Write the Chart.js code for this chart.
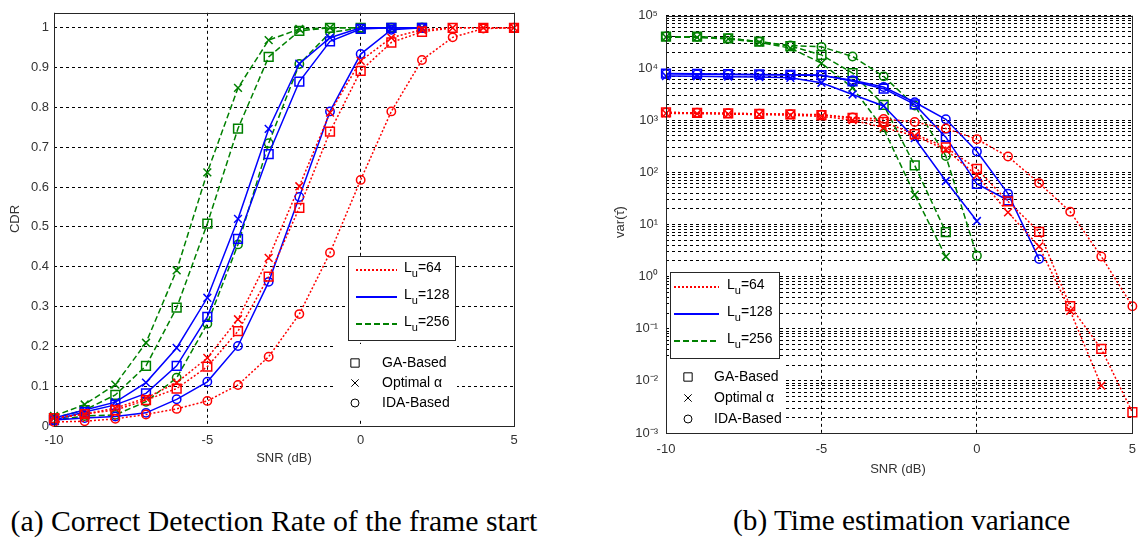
<!DOCTYPE html>
<html><head><meta charset="utf-8">
<script src="https://cdn.jsdelivr.net/npm/chart.js@4/dist/chart.umd.min.js"></script>
<style>
html,body{margin:0;padding:0;background:#fff;width:1145px;height:538px;overflow:hidden;position:relative}
#c1{position:absolute;left:0;top:0;width:560px;height:480px}
#c2{position:absolute;left:580px;top:0;width:565px;height:480px}
.cap{position:absolute;font-family:"Liberation Serif","Times New Roman",serif;color:#000;white-space:nowrap}
</style></head><body>
<canvas id="c1" width="560" height="480"></canvas>
<canvas id="c2" width="565" height="480"></canvas>
<div class="cap" id="capA">(a) Correct Detection Rate of the frame start</div>
<div class="cap" id="capB">(b) Time estimation variance</div>
<script>
// ---------- DATA ----------
const snr = [-10, -9, -8, -7, -6, -5, -4, -3, -2, -1, 0, 1, 2, 3, 4, 5];
const xTicks = [-10, -5, 0, 5];
const cdrTicks = [0, 0.1, 0.2, 0.3, 0.4, 0.5, 0.6, 0.7, 0.8, 0.9, 1];

// (a) CDR
const cdr64_ga  = [0.02, 0.03, 0.04, 0.065, 0.094, 0.149, 0.238, 0.375, 0.548, 0.739, 0.892, 0.963, 0.99, 1, 1, 1];
const cdr64_opt = [0.02, 0.03, 0.045, 0.07, 0.109, 0.171, 0.268, 0.422, 0.602, 0.787, 0.917, 0.975, 0.995, 1, 1, 1];
const cdr64_ida = [0.01, 0.012, 0.018, 0.029, 0.043, 0.063, 0.103, 0.174, 0.281, 0.435, 0.618, 0.79, 0.919, 0.976, 0.998, 1];
const cdr128_ga  = [0.015, 0.035, 0.053, 0.082, 0.151, 0.274, 0.47, 0.683, 0.865, 0.966, 0.997, 1, 1, null, null, null];
const cdr128_opt = [0.02, 0.04, 0.06, 0.109, 0.196, 0.322, 0.52, 0.746, 0.91, 0.975, 1, 1, 1, null, null, null];
const cdr128_ida = [0.015, 0.02, 0.024, 0.033, 0.067, 0.111, 0.201, 0.362, 0.575, 0.79, 0.934, 0.995, 1, null, null, null];
const cdr256_ga  = [0.02, 0.04, 0.078, 0.151, 0.297, 0.508, 0.747, 0.927, 0.992, 1, 1, 1, 1, null, null, null];
const cdr256_opt = [0.025, 0.054, 0.104, 0.209, 0.391, 0.637, 0.849, 0.969, 0.997, 1, 1, 1, 1, null, null, null];
const cdr256_ida = [0.015, 0.025, 0.028, 0.061, 0.121, 0.257, 0.456, 0.71, 0.909, 0.988, 1, 1, 1, null, null, null];

// (b) variance
const var64_ga  = [1400, 1380, 1350, 1320, 1290, 1250, 1100, 920, 540, 300, 116, 27.6, 7.2, 0.27, 0.041, 0.0025];
const var64_opt = [1350, 1330, 1300, 1280, 1240, 1180, 1000, 720, 500, 270, 87, 17, 3.8, 0.22, 0.0081, null];
const var64_ida = [1400, 1380, 1350, 1320, 1300, 1270, 1120, 1050, 920, 690, 430, 200, 62, 17.5, 2.43, 0.27];
const var128_ga  = [7800, 7700, 7600, 7500, 7400, 7300, 5560, 4000, 2000, 470, 60, 29, null, null, null, null];
const var128_opt = [7000, 6900, 6800, 6700, 6460, 5200, 3100, 1870, 450, 68, 11.6, null, null, null, null, null];
const var128_ida = [7700, 7600, 7500, 7400, 7300, 7200, 5800, 4300, 2200, 1035, 250, 39, 2.16, null, null, null];
const var256_ga  = [39800, 39800, 37000, 32000, 26300, 17800, 7950, 1950, 135, 7.1, null, null, null, null, null, null];
const var256_opt = [39000, 38500, 36000, 31000, 24000, 12400, 4170, 680, 37, 2.4, null, null, null, null, null, null];
const var256_ida = [40000, 39500, 37000, 32000, 27000, 25400, 16600, 6900, 1900, 205, 2.5, null, null, null, null, null];

const seriesLabels = ['64', '128', '256'];
const methodLabels = ['GA-Based', 'Optimal \u03B1', 'IDA-Based'];

// ---------- STYLE ----------
const FONT = '"Liberation Sans", Arial, sans-serif';
const TICKCOL = '#333';
const RED = '#ff0000', BLUE = '#0000ff', GREEN = '#008000';
const lineStyle = {
  '64':  {color: RED,   dash: [2, 2], width: 1.5},
  '128': {color: BLUE,  dash: [],     width: 1.5},
  '256': {color: GREEN, dash: [6, 3], width: 1.5}
};
const markStyle = {
  'GA-Based':    {pointStyle: 'rect',     radius: 6.2},
  'Optimal \u03B1': {pointStyle: 'crossRot', radius: 5.5},
  'IDA-Based':   {pointStyle: 'circle',   radius: 4.2}
};

function mkDataset(vals, lu, method) {
  const ls = lineStyle[lu], ms = markStyle[method];
  return {
    label: 'Lu=' + lu + ' ' + method,
    data: snr.map((s, i) => ({x: s, y: vals[i]})),
    borderColor: ls.color, borderDash: ls.dash, borderWidth: ls.width,
    backgroundColor: 'transparent',
    pointStyle: ms.pointStyle, pointRadius: ms.radius,
    pointBorderColor: ls.color, pointBackgroundColor: 'transparent', pointBorderWidth: 1.5,
    tension: 0, spanGaps: false, clip: false, fill: false
  };
}

const extras = {
  id: 'extras',
  afterDraw(chart, args, o) {
    const ctx = chart.ctx, a = chart.chartArea;
    ctx.save();
    // axes box
    ctx.setLineDash([]);
    ctx.strokeStyle = '#262626'; ctx.lineWidth = 1;
    ctx.strokeRect(Math.round(a.left) + 0.5, Math.round(a.top) + 0.5,
                   Math.round(a.right - a.left), Math.round(a.bottom - a.top));
    // axis labels
    ctx.fillStyle = TICKCOL; ctx.font = '13px ' + FONT;
    ctx.textAlign = 'center'; ctx.textBaseline = 'middle';
    ctx.fillText(o.xlabel.text, o.xlabel.x, o.xlabel.y);
    ctx.save();
    ctx.translate(o.ylabel.x, o.ylabel.y); ctx.rotate(-Math.PI / 2);
    ctx.fillText(o.ylabel.text, 0, 0);
    ctx.restore();
    // legend (line styles)
    const L = o.legend;
    ctx.fillStyle = '#fff';
    ctx.fillRect(L.box[0], L.box[1], L.box[2], L.box[3]);
    ctx.strokeStyle = '#262626'; ctx.lineWidth = 1;
    ctx.strokeRect(L.box[0] + 0.5, L.box[1] + 0.5, L.box[2], L.box[3]);
    seriesLabels.forEach((lu, i) => {
      const ls = lineStyle[lu], y = L.rows[i];
      ctx.beginPath(); ctx.setLineDash(ls.dash); ctx.strokeStyle = ls.color; ctx.lineWidth = 2;
      ctx.moveTo(L.lineX[0], y); ctx.lineTo(L.lineX[1], y); ctx.stroke();
      ctx.setLineDash([]);
      ctx.fillStyle = '#000'; ctx.textAlign = 'left'; ctx.textBaseline = 'middle';
      ctx.font = '14px ' + FONT;
      let x = L.textX;
      ctx.fillText('L', x, y - 2); x += ctx.measureText('L').width;
      ctx.font = '11px ' + FONT;
      ctx.fillText('u', x, y + 4); x += ctx.measureText('u').width;
      ctx.font = '14px ' + FONT;
      ctx.fillText('=' + lu, x, y - 2);
    });
    // legend (markers)
    const M = o.markers;
    ctx.fillStyle = '#fff';
    ctx.fillRect(M.area[0], M.area[1], M.area[2], M.area[3]);
    methodLabels.forEach((m, i) => {
      const y = M.rows[i], x = M.markX, ms = markStyle[m];
      ctx.strokeStyle = '#000'; ctx.fillStyle = 'rgba(0,0,0,0)'; ctx.lineWidth = 1; ctx.setLineDash([]);
      Chart.helpers.drawPoint(ctx, {pointStyle: ms.pointStyle, radius: ms.radius * 0.95, rotation: 0, borderWidth: 1}, x, y);
      ctx.fillStyle = '#000'; ctx.font = '14px ' + FONT; ctx.textAlign = 'left'; ctx.textBaseline = 'middle';
      ctx.fillText(m, M.textX, y);
    });
    ctx.restore();
  }
};

const DASH = [3, 3];
const gridCfg = {color: '#000', lineWidth: 1, drawTicks: false, borderDash: DASH};
const borderCfg = {display: false, dash: DASH};
function xScale(pad) {
  return {
    type: 'linear', min: -10, max: 5,
    afterBuildTicks: s => { s.ticks = xTicks.map(v => ({value: v})); },
    ticks: {color: TICKCOL, font: {family: FONT, size: 13}, padding: pad, autoSkip: false, maxRotation: 0,
            callback: v => String(v)},
    grid: gridCfg, border: borderCfg
  };
}

// ---------- CHART A ----------
new Chart(document.getElementById('c1'), {
  type: 'line',
  data: {datasets: [
    mkDataset(cdr64_ga, '64', methodLabels[0]), mkDataset(cdr64_opt, '64', methodLabels[1]), mkDataset(cdr64_ida, '64', methodLabels[2]),
    mkDataset(cdr128_ga, '128', methodLabels[0]), mkDataset(cdr128_opt, '128', methodLabels[1]), mkDataset(cdr128_ida, '128', methodLabels[2]),
    mkDataset(cdr256_ga, '256', methodLabels[0]), mkDataset(cdr256_opt, '256', methodLabels[1]), mkDataset(cdr256_ida, '256', methodLabels[2])
  ]},
  options: {
    responsive: false, animation: false, devicePixelRatio: 1,
    layout: {padding: {left: 0, top: 12, right: 46, bottom: 0}},
    plugins: {
      legend: {display: false}, tooltip: {enabled: false},
      extras: {
        xlabel: {text: 'SNR (dB)', x: 284, y: 458},
        ylabel: {text: 'CDR', x: 15, y: 219},
        legend: {box: [348, 256, 107, 84], rows: [270, 297, 324], lineX: [356, 397], textX: 404},
        markers: {area: [333, 344, 124, 76], rows: [363, 383, 403], markX: 355, textX: 382}
      }
    },
    scales: {
      x: Object.assign(xScale(7), {afterFit: s => { s.height = 54; }}),
      y: {
        type: 'linear', min: 0, max: 1.0376,
        afterBuildTicks: s => { s.ticks = cdrTicks.map(v => ({value: v})); },
        afterFit: s => { s.width = 54; },
        ticks: {color: TICKCOL, font: {family: FONT, size: 13}, padding: 5, autoSkip: false,
                callback: v => (v === 0 ? '0' : (v === 1 ? '1' : v.toFixed(1)))},
        grid: gridCfg, border: borderCfg
      }
    }
  },
  plugins: [extras]
});

// ---------- CHART B ----------
const SUP = {'-': '\u207B', '0': '\u2070', '1': '\u00B9', '2': '\u00B2', '3': '\u00B3', '4': '\u2074', '5': '\u2075'};
function logTicks() {
  const t = [];
  for (let e = -3; e < 5; e++) for (let k = 1; k < 10; k++) t.push({value: k * Math.pow(10, e)});
  t.push({value: 1e5});
  return t;
}
new Chart(document.getElementById('c2'), {
  type: 'line',
  data: {datasets: [
    mkDataset(var64_ga, '64', methodLabels[0]), mkDataset(var64_opt, '64', methodLabels[1]), mkDataset(var64_ida, '64', methodLabels[2]),
    mkDataset(var128_ga, '128', methodLabels[0]), mkDataset(var128_opt, '128', methodLabels[1]), mkDataset(var128_ida, '128', methodLabels[2]),
    mkDataset(var256_ga, '256', methodLabels[0]), mkDataset(var256_opt, '256', methodLabels[1]), mkDataset(var256_ida, '256', methodLabels[2])
  ]},
  options: {
    responsive: false, animation: false, devicePixelRatio: 1,
    layout: {padding: {left: 0, top: 12, right: 11, bottom: 0}},
    plugins: {
      legend: {display: false}, tooltip: {enabled: false},
      extras: {
        xlabel: {text: 'SNR (dB)', x: 318, y: 469},
        ylabel: {text: 'var(\u03C4\u0302)', x: 40, y: 222},
        legend: {box: [90, 272, 109, 86], rows: [287, 314, 341], lineX: [94, 139], textX: 147},
        markers: {area: [87, 360, 116, 72], rows: [377, 398, 419], markX: 108, textX: 134}
      }
    },
    scales: {
      x: Object.assign(xScale(9), {afterFit: s => { s.height = 47; }}),
      y: {
        type: 'logarithmic', min: 1e-3, max: 1e5,
        afterBuildTicks: s => { s.ticks = logTicks(); },
        afterFit: s => { s.width = 86; },
        ticks: {color: TICKCOL, font: {family: FONT, size: 13}, padding: 8, autoSkip: false,
                callback: v => {
                  const l = Math.log10(v), r = Math.round(l);
                  if (Math.abs(l - r) > 1e-6) return '';
                  return '10' + String(r).split('').map(c => SUP[c]).join('');
                }},
        grid: gridCfg, border: borderCfg
      }
    }
  },
  plugins: [extras]
});

// ---------- CAPTIONS ----------
function fitCaption(id, cx, cy, targetW) {
  const el = document.getElementById(id);
  const c = document.createElement('canvas').getContext('2d');
  c.font = '100px "Liberation Serif"';
  const w = c.measureText(el.textContent).width;
  const size = 100 * targetW / w;
  el.style.fontSize = size + 'px'; el.style.lineHeight = size + 'px';
  el.style.left = (cx - targetW / 2) + 'px';
  el.style.top = (cy - 0.6 * size) + 'px';
}
fitCaption('capA', 274, 524, 527);
fitCaption('capB', 902, 524, 338);
</script>
</body></html>
